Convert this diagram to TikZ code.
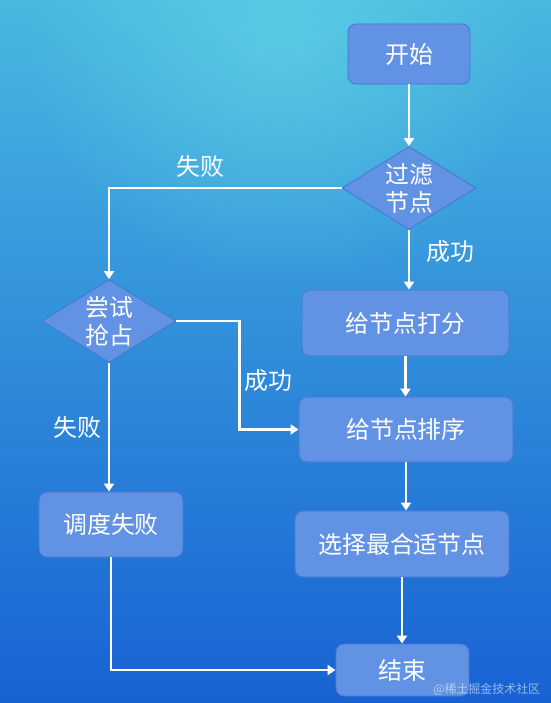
\documentclass[tikz,border=0pt]{standalone}
\usepackage{fontspec}
\newfontfamily\cjk{Noto Sans CJK SC}
\usetikzlibrary{arrows.meta, positioning, shapes.geometric, fadings}
\definecolor{bgtop}{RGB}{72,184,224}
\definecolor{bgmid}{RGB}{40,138,216}
\definecolor{bgbot}{RGB}{24,98,212}
\definecolor{bgglow}{RGB}{100,214,230}
\definecolor{boxfill}{RGB}{98,146,228}
\definecolor{boxline}{RGB}{70,120,206}
\tikzfading[name=glowfade, inner color=transparent!35, outer color=transparent!100]
\tikzset{
  every picture/.style={font=\cjk\fontsize{17}{20}\selectfont, line width=1.6pt},
  box/.style={draw=boxline, line width=0.6pt, fill=boxfill, rounded corners=0.2cm, text=white, inner sep=2pt},
  decision/.style={diamond, draw=boxline, line width=0.6pt, fill=boxfill, text=white, align=center, inner sep=0pt, shape aspect=1.63, minimum width=3.35cm, minimum height=2.07cm},
  arrow/.style={-{Triangle[length=2mm, width=2.5mm]}, draw=white},
  edgetext/.style={text=white},
  credit/.style={text=white, opacity=0.55, font=\cjk\fontsize{8.5}{10}\selectfont},
}

\begin{document}
\begin{tikzpicture}[x=0.025cm, y=-0.025cm]
  \useasboundingbox (0,0) rectangle (551,703);
  % background
  \begin{scope}
    \clip (0,0) rectangle (551,703);
    \shade[top color=bgtop, middle color=bgmid, bottom color=bgbot] (0,0) rectangle (551,703);
    \fill[bgglow, path fading=glowfade] (280,30) circle (260);
  \end{scope}

  % steps
  \foreach \name/\x/\y/\w/\h/\txt in {start/409/54/3.05/1.5/开始, score/405.5/323/5.175/1.65/给节点打分,
                                      sort/406/429.5/5.35/1.625/给节点排序, pick/402/544/5.35/1.65/选择最合适节点,
                                      finish/402.5/670/3.325/1.3/结束, fail/111/524.5/3.6/1.625/调度失败}
    \node[box, minimum width=\w cm, minimum height=\h cm] (\name) at (\x,\y) {\txt};
  \node[decision] (filter) at (409,188) {过滤\\节点};
  \node[decision] (preempt) at (109,321) {尝试\\抢占};

  % flow
  \draw[arrow] (start) -- (filter);
  \draw[arrow] (filter) -- (filter |- score.north);
  \draw[arrow] (score) -- (score |- sort.north);
  \draw[arrow] (sort) -- (sort |- pick.north);
  \draw[arrow] (pick) -- (pick |- finish.north);
  \draw[arrow] (filter.west) -| (preempt.north);
  \draw[arrow] (preempt.south) -- (preempt.south |- fail.north);
  \draw[arrow] (preempt.east) -- ++(63,0) |- (sort.west);
  \draw[arrow] (fail.south) |- (finish.west);

  \node[edgetext] (filterno) at (200,166) {失败};
  \node[edgetext] (filteryes) at (450,252) {成功};
  \node[edgetext] (preemptyes) at (268,381) {成功};
  \node[edgetext] (preemptno) at (77,427) {失败};

  \node[credit, anchor=east] (credit) at (546,689) {@稀土掘金技术社区};
\end{tikzpicture}
\end{document}
